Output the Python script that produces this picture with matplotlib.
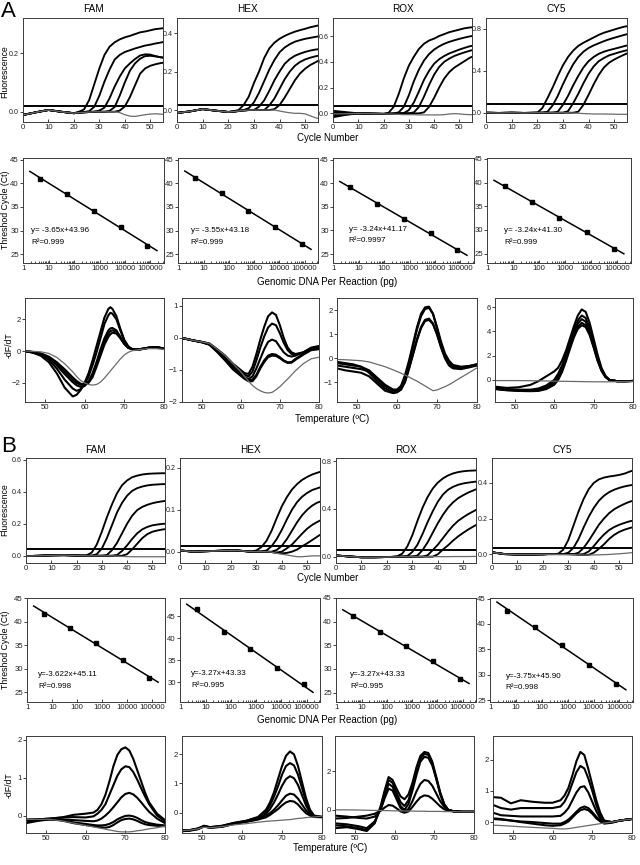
import numpy as np
import matplotlib
matplotlib.use("Agg")
import matplotlib.pyplot as plt
from matplotlib.ticker import FixedLocator, FixedFormatter, LogLocator, NullFormatter

plt.rcParams['font.family'] = ['Liberation Sans', 'DejaVu Sans']

W, H = 640, 865
DYES = ["FAM", "HEX", "ROX", "CY5"]

# ---------------- amplification curves (fluorescence vs cycle) ----------------
AMP_CYCLES = [0, 5, 10, 15, 20, 22, 24, 26, 28, 30, 32, 34, 36, 38, 40, 42, 44, 46, 48, 50, 52, 54, 55]

AMP_A_FAM = [
    [-0.011,-0.002,0.006,0.0,-0.005, 0.0,0.008,0.04,0.094,0.148, 0.194,0.222,0.237,0.247,0.254, 0.259,0.265,0.271,0.274,0.278, 0.282,0.284,0.285],
    [-0.011,-0.002,0.006,0.0,-0.005, -0.003,-0.001,0.002,0.017,0.055, 0.103,0.144,0.178,0.194,0.204, 0.21,0.216,0.221,0.226,0.229, 0.233,0.236,0.238],
    [-0.011,-0.002,0.006,0.0,-0.005, -0.003,-0.002,-0.001,0.0,0.004, 0.014,0.046,0.086,0.12,0.148, 0.165,0.18,0.192,0.196,0.195, 0.19,0.186,0.185],
    [-0.011,-0.002,0.006,0.0,-0.005, -0.003,-0.002,-0.001,0.0,0.0, 0.0,0.003,0.016,0.055,0.1, 0.14,0.165,0.181,0.19,0.191, 0.189,0.186,0.185],
    [-0.011,-0.002,0.006,0.0,-0.005, -0.003,-0.002,-0.001,0.0,0.0, 0.0,0.0,0.0,0.004,0.018, 0.05,0.09,0.13,0.148,0.157, 0.162,0.166,0.167],
]
NEG_A_FAM = [-0.011,-0.002,0.006,0.0,-0.005, -0.003,-0.002,-0.001,0.0,0.0, 0.0,0.0,0.0,-0.003,-0.01, -0.015,-0.016,-0.013,-0.01,-0.008, -0.007,-0.008,-0.009]

AMP_A_HEX = [
    [-0.015,-0.007,0.005,-0.003,-0.01, -0.006,0.0,0.026,0.07,0.14, 0.2,0.27,0.32,0.35,0.37, 0.385,0.397,0.407,0.415,0.422, 0.43,0.436,0.439],
    [-0.015,-0.007,0.005,-0.003,-0.01, -0.008,-0.005,0.0,0.01,0.04, 0.09,0.15,0.21,0.26,0.3, 0.325,0.342,0.355,0.363,0.37, 0.375,0.38,0.382],
    [-0.015,-0.007,0.005,-0.003,-0.01, -0.008,-0.005,-0.002,0.0,0.0, 0.018,0.05,0.1,0.155,0.2, 0.24,0.265,0.282,0.293,0.302, 0.309,0.314,0.316],
    [-0.015,-0.007,0.005,-0.003,-0.01, -0.008,-0.005,-0.002,0.0,0.0, 0.0,0.0,0.024,0.06,0.11, 0.16,0.2,0.23,0.25,0.263, 0.272,0.279,0.282],
    [-0.015,-0.007,0.005,-0.003,-0.01, -0.008,-0.005,-0.002,0.0,0.0, 0.0,0.0,0.0,0.005,0.026, 0.065,0.11,0.155,0.19,0.215, 0.234,0.248,0.255],
]
NEG_A_HEX = [-0.015,-0.007,0.005,-0.003,-0.01, -0.008,-0.005,-0.002,0.0,0.0, 0.0,0.0,0.0,0.0,-0.005, -0.01,-0.014,-0.017,-0.017,-0.02, -0.03,-0.04,-0.043]

AMP_A_ROX = [
    [0.02,0.01,0.0,-0.002,-0.004, 0.005,0.05,0.15,0.27,0.37, 0.44,0.5,0.54,0.565,0.58, 0.6,0.615,0.63,0.64,0.65, 0.66,0.666,0.668],
    [0.005,0.003,0.0,-0.002,-0.004, -0.003,-0.001,0.008,0.05,0.14, 0.25,0.34,0.41,0.46,0.495, 0.52,0.54,0.555,0.567,0.578, 0.588,0.597,0.6],
    [-0.01,-0.004,0.0,-0.002,-0.004, -0.003,-0.002,0.0,0.002,0.025, 0.085,0.17,0.26,0.33,0.385, 0.42,0.445,0.465,0.48,0.495, 0.508,0.52,0.524],
    [-0.02,-0.008,0.0,-0.002,-0.004, -0.003,-0.002,-0.001,0.0,0.0, 0.008,0.05,0.13,0.22,0.3, 0.36,0.4,0.425,0.445,0.46, 0.473,0.485,0.49],
    [-0.03,-0.012,0.0,-0.002,-0.004, -0.003,-0.002,-0.001,0.0,0.0, 0.0,0.0,0.008,0.05,0.12, 0.2,0.27,0.32,0.355,0.38, 0.405,0.43,0.439],
]
NEG_A_ROX = [-0.005,-0.003,0.0,-0.002,-0.004, -0.005,-0.006,-0.008,-0.01,-0.01, -0.01,-0.012,-0.012,-0.012,-0.012, -0.012,-0.01,-0.005,-0.002,-0.004, -0.008,-0.01,-0.01]

AMP_A_CY5 = [
    [0.0,-0.002,0.0,-0.002,0.0, 0.045,0.14,0.24,0.35,0.45, 0.53,0.59,0.635,0.665,0.69, 0.715,0.74,0.76,0.775,0.79, 0.805,0.818,0.822],
    [0.0,-0.002,0.0,-0.002,0.0, 0.0,0.01,0.07,0.16,0.27, 0.37,0.46,0.53,0.58,0.615, 0.64,0.66,0.68,0.697,0.712, 0.726,0.74,0.746],
    [0.0,-0.002,0.0,-0.002,0.0, 0.0,0.0,0.0,0.01,0.075, 0.16,0.26,0.35,0.43,0.49, 0.53,0.56,0.58,0.595,0.607, 0.62,0.633,0.639],
    [0.0,-0.002,0.0,-0.002,0.0, 0.0,0.0,0.0,0.0,0.0, 0.015,0.09,0.18,0.28,0.37, 0.44,0.49,0.52,0.545,0.56, 0.575,0.588,0.594],
    [0.0,-0.002,0.0,-0.002,0.0, 0.0,0.0,0.0,0.0,0.0, 0.0,0.0,0.01,0.075,0.17, 0.27,0.36,0.43,0.475,0.505, 0.53,0.553,0.563],
]
NEG_A_CY5 = [0.0,-0.002,0.0,-0.002,0.0, 0.0,0.0,0.0,0.0,0.0, 0.0,-0.002,-0.005,-0.008,-0.01, -0.012,-0.012,-0.012,-0.013,-0.014, -0.015,-0.015,-0.015]

AMP_B_FAM = [
    [-0.002,0.0,0.003,0.004,0.002, 0.0,0.003,0.02,0.07,0.15, 0.24,0.32,0.39,0.44,0.47, 0.49,0.5,0.507,0.511,0.513, 0.514,0.515,0.515],
    [-0.002,0.0,0.003,0.004,0.002, 0.001,0.0,0.0,0.01,0.045, 0.11,0.19,0.27,0.33,0.375, 0.405,0.422,0.432,0.439,0.443, 0.445,0.447,0.447],
    [-0.002,0.0,0.003,0.004,0.002, 0.001,0.0,0.0,0.0,0.0, 0.005,0.035,0.08,0.14,0.2, 0.25,0.285,0.305,0.318,0.328, 0.335,0.34,0.342],
    [-0.002,0.0,0.003,0.004,0.002, 0.001,0.0,0.0,0.0,0.0, 0.0,0.0,0.005,0.03,0.065, 0.105,0.14,0.165,0.18,0.19, 0.195,0.199,0.2],
    [-0.002,0.0,0.003,0.004,0.002, 0.001,0.0,0.0,0.0,0.0, 0.0,0.0,0.0,0.0,0.01, 0.04,0.075,0.11,0.135,0.15, 0.158,0.164,0.166],
]
NEG_B_FAM = [-0.002,0.0,0.003,0.004,0.002, 0.001,0.0,0.0,0.0,0.0, 0.0,0.0,-0.002,-0.004,-0.005, -0.006,-0.006,-0.006,-0.006,-0.006, -0.006,-0.006,-0.006]

AMP_B_HEX = [
    [0.003,0.0,0.001,0.002,0.003, 0.003,0.002,0.001,0.0,0.003, 0.011,0.026,0.05,0.08,0.108, 0.13,0.148,0.161,0.171,0.178, 0.184,0.188,0.19],
    [0.003,0.0,0.001,0.002,0.003, 0.003,0.002,0.001,0.0,0.0, 0.0,0.003,0.013,0.03,0.052, 0.077,0.1,0.118,0.131,0.14, 0.147,0.151,0.153],
    [0.003,0.0,0.001,0.002,0.003, 0.003,0.002,0.001,0.0,0.0, 0.0,0.0,0.0,0.004,0.014, 0.03,0.05,0.07,0.087,0.1, 0.11,0.117,0.119],
    [0.003,0.0,0.001,0.002,0.003, 0.003,0.002,0.001,0.0,0.0, 0.0,0.0,-0.001,-0.002,0.0, 0.008,0.017,0.03,0.043,0.055, 0.064,0.071,0.074],
    [0.003,0.0,0.001,0.002,0.003, 0.003,0.002,0.001,0.0,0.0, 0.0,0.0,-0.001,-0.003,-0.004, -0.003,0.0,0.005,0.013,0.02, 0.028,0.036,0.04],
]
NEG_B_HEX = [0.003,0.0,0.001,0.002,0.003, 0.003,0.002,0.001,0.0,0.0, 0.0,0.0,-0.001,-0.004,-0.006, -0.008,-0.01,-0.012,-0.012,-0.011, -0.01,-0.01,-0.01]

AMP_B_ROX = [
    [0.01,0.002,-0.005,-0.005,-0.003, -0.002,0.003,0.025,0.085,0.18, 0.3,0.41,0.5,0.57,0.62, 0.655,0.68,0.697,0.708,0.715, 0.719,0.721,0.722],
    [0.01,0.002,-0.005,-0.005,-0.003, -0.002,-0.001,0.0,0.005,0.04, 0.1,0.19,0.29,0.38,0.46, 0.52,0.56,0.585,0.602,0.613, 0.62,0.626,0.628],
    [0.01,0.002,-0.005,-0.005,-0.003, -0.002,-0.001,0.0,0.0,0.0, 0.01,0.055,0.12,0.2,0.28, 0.35,0.41,0.455,0.49,0.515, 0.537,0.555,0.564],
    [0.01,0.002,-0.005,-0.005,-0.003, -0.002,-0.001,0.0,0.0,0.0, 0.0,0.0,0.012,0.055,0.1, 0.155,0.21,0.26,0.3,0.33, 0.357,0.38,0.391],
    [0.01,0.002,-0.005,-0.005,-0.003, -0.002,-0.001,0.0,0.0,0.0, 0.0,0.0,0.0,0.0,0.02, 0.06,0.095,0.135,0.17,0.2, 0.228,0.253,0.265],
]
NEG_B_ROX = [0.01,0.002,-0.005,-0.005,-0.003, -0.002,-0.001,0.0,0.0,0.0, 0.0,0.0,0.0,0.0,0.0, 0.0,0.0,0.001,0.001,0.001, 0.001,0.002,0.002]

AMP_B_CY5 = [
    [0.01,0.0,-0.002,-0.002,-0.001, 0.0,0.0,0.002,0.025,0.08, 0.16,0.24,0.31,0.365,0.4, 0.42,0.43,0.436,0.44,0.445, 0.452,0.463,0.468],
    [0.01,0.0,-0.002,-0.002,-0.001, 0.0,0.0,0.0,0.0,0.008, 0.035,0.085,0.15,0.21,0.26, 0.3,0.328,0.348,0.362,0.372, 0.38,0.386,0.388],
    [0.01,0.0,-0.002,-0.002,-0.001, 0.0,0.0,0.0,0.0,0.0, -0.001,0.008,0.035,0.075,0.12, 0.165,0.2,0.23,0.252,0.268, 0.282,0.294,0.298],
    [0.01,0.0,-0.002,-0.002,-0.001, 0.0,0.0,0.0,0.0,0.0, -0.001,-0.003,0.0,0.015,0.045, 0.08,0.11,0.135,0.152,0.165, 0.175,0.184,0.187],
    [0.01,0.0,-0.002,-0.002,-0.001, 0.0,0.0,0.0,0.0,0.0, -0.001,-0.003,-0.005,-0.004,0.008, 0.03,0.055,0.085,0.108,0.125, 0.137,0.146,0.15],
]
NEG_B_CY5 = [0.01,0.0,-0.002,-0.002,-0.001, -0.001,-0.001,-0.002,-0.002,-0.003, -0.003,-0.004,-0.005,-0.005,-0.005, -0.004,-0.003,-0.002,0.0,0.002, 0.004,0.007,0.008]

THRESH_A = [0.02, 0.026, 0.057, 0.079]
THRESH_B = [0.045, 0.0135, 0.056, 0.037]
AMP_YLIM_A = [(-0.035, 0.32), (-0.062, 0.478), (-0.067, 0.74), (-0.088, 0.9)]
AMP_YLIM_B = [(-0.045, 0.61), (-0.027, 0.223), (-0.053, 0.826), (-0.05, 0.54)]
AMP_YTICKS_A = [[0.0, 0.2], [0.0, 0.2, 0.4], [0.0, 0.2, 0.4, 0.6], [0.0, 0.4, 0.8]]
AMP_YTICKS_B = [[0.0, 0.2, 0.4, 0.6], [0.0, 0.1, 0.2], [0.0, 0.4, 0.8], [0.0, 0.2, 0.4]]

# ---------------- standard curves ----------------
DNA_PG = [4.6, 52, 590, 6800, 76000]
CT_A = [
    [41.0, 37.8, 34.1, 30.7, 26.8],
    [41.2, 37.9, 34.2, 30.8, 27.2],
    [39.2, 35.6, 32.5, 29.4, 25.8],
    [39.3, 35.8, 32.6, 29.6, 26.0],
]
CT_B = [
    [41.7, 38.8, 35.6, 31.9, 28.0],
    [46.5, 41.4, 37.5, 33.2, 29.5],
    [41.1, 37.9, 34.9, 31.6, 27.8],
    [42.6, 39.5, 35.9, 32.0, 28.2],
]
EQ_A = ["y= -3.65x+43.96", "y= -3.55x+43.18", "y= -3.24x+41.17", "y= -3.24x+41.30"]
R2_A = ["R²=0.999", "R²=0.999", "R²=0.9997", "R²=0.999"]
EQ_B = ["y=-3.622x+45.11", "y=-3.27x+43.33", "y=-3.27x+43.33", "y=-3.75x+45.90"]
R2_B = ["R²=0.998", "R²=0.995", "R²=0.995", "R²=0.998"]
STD_YLIM_A = [(23.1, 45.4), (23.1, 45.4), (23.1, 45.35), (23.0, 45.2)]
STD_YLIM_B = [(22.9, 45.1), (25.5, 49.1), (23.0, 45.0), (24.7, 45.1)]
STD_YTICKS_A = [[25, 30, 35, 40, 45]] * 4
STD_YTICKS_B = [[25, 30, 35, 40, 45], [30, 35, 40, 45], [25, 30, 35, 40, 45], [25, 30, 35, 40, 45]]
DNA_TICKS = [1, 10, 100, 1000, 10000, 100000]
DNA_TICKLABELS = ["1", "10", "100", "1000", "10000", "100000"]
EQ_POS_A = [(0.06, 0.31), (0.09, 0.31), (0.11, 0.32), (0.12, 0.31)]
EQ_POS_B = [(0.08, 0.26), (0.08, 0.27), (0.10, 0.26), (0.11, 0.25)]

# ---------------- melt curves (-dF/dT vs temperature) ----------------
T_A_FAM = [45,47,49,51,53,55,57,58,59,60,61,62,63,64,65,66,66.5,67,68,69,70,71,72,74,76,78,80]
MELT_A_FAM = [
    [0,-0.1,-0.3,-0.7,-1.4,-2.3,-2.85,-2.75,-2.45,-2.0,-1.4,-0.6,0.3,1.2,2.1,2.65,2.75,2.65,2.2,1.4,0.7,0.3,0.12,0.1,0.2,0.25,0.15],
    [0,-0.1,-0.25,-0.55,-1.1,-1.8,-2.35,-2.5,-2.4,-2.1,-1.6,-0.9,-0.1,0.8,1.7,2.25,2.4,2.35,2.0,1.3,0.65,0.25,0.12,0.1,0.2,0.25,0.15],
    [0,-0.08,-0.2,-0.45,-0.9,-1.45,-1.95,-2.15,-2.25,-2.2,-1.9,-1.4,-0.7,0.1,0.8,1.3,1.42,1.45,1.3,0.9,0.45,0.2,0.12,0.12,0.2,0.25,0.15],
    [0,-0.07,-0.18,-0.4,-0.8,-1.3,-1.8,-2.0,-2.12,-2.15,-1.95,-1.5,-0.85,-0.1,0.6,1.1,1.25,1.3,1.2,0.85,0.45,0.2,0.12,0.12,0.2,0.25,0.15],
    [0,-0.06,-0.15,-0.35,-0.7,-1.15,-1.65,-1.88,-2.05,-2.1,-2.0,-1.65,-1.0,-0.3,0.4,0.9,1.05,1.15,1.1,0.8,0.45,0.2,0.12,0.12,0.2,0.25,0.15],
]
MNEG_A_FAM = [0,-0.02,-0.05,-0.15,-0.4,-0.8,-1.3,-1.6,-1.85,-2.0,-2.1,-2.14,-2.1,-1.95,-1.7,-1.4,-1.25,-1.1,-0.8,-0.5,-0.25,-0.08,0.02,0.1,0.15,0.15,0.1]

T_A_HEX = [45,48,50,52,54,56,58,60,61,62,63,64,65,66,67,68,69,70,71,72,73,74,76,78,80]
MELT_A_HEX = [
    [0,-0.08,-0.12,-0.17,-0.35,-0.55,-0.8,-1.0,-1.1,-1.12,-0.9,-0.5,-0.05,0.35,0.68,0.8,0.72,0.4,0.0,-0.3,-0.45,-0.5,-0.45,-0.3,-0.25],
    [0,-0.08,-0.12,-0.18,-0.37,-0.6,-0.85,-1.05,-1.15,-1.2,-1.05,-0.7,-0.3,0.05,0.33,0.45,0.4,0.15,-0.15,-0.38,-0.5,-0.52,-0.45,-0.32,-0.28],
    [0,-0.08,-0.13,-0.2,-0.4,-0.65,-0.92,-1.12,-1.22,-1.28,-1.2,-0.95,-0.65,-0.35,-0.12,-0.05,-0.1,-0.28,-0.45,-0.55,-0.58,-0.55,-0.45,-0.33,-0.3],
    [0,-0.08,-0.13,-0.2,-0.42,-0.68,-0.95,-1.15,-1.25,-1.32,-1.3,-1.15,-0.9,-0.7,-0.55,-0.5,-0.52,-0.6,-0.7,-0.76,-0.75,-0.65,-0.5,-0.35,-0.32],
    [0,-0.08,-0.13,-0.21,-0.44,-0.7,-0.98,-1.18,-1.28,-1.35,-1.35,-1.2,-0.95,-0.75,-0.6,-0.55,-0.56,-0.63,-0.72,-0.78,-0.77,-0.68,-0.52,-0.38,-0.35],
]
MNEG_A_HEX = [0,-0.08,-0.12,-0.17,-0.35,-0.55,-0.8,-1.05,-1.2,-1.35,-1.48,-1.58,-1.65,-1.7,-1.72,-1.7,-1.62,-1.52,-1.4,-1.28,-1.15,-1.02,-0.8,-0.65,-0.6]

T_A_ROX = [45,47,49,51,53,55,57,59,60,61,62,63,64,65,66,67,68,69,70,71,72,73,74,76,78,80]
MELT_A_ROX = [
    [-0.2,-0.25,-0.3,-0.35,-0.5,-0.8,-1.1,-1.3,-1.3,-1.15,-0.7,-0.1,0.6,1.3,1.85,2.12,2.15,1.85,1.25,0.6,0.1,-0.2,-0.32,-0.38,-0.33,-0.25],
    [-0.3,-0.35,-0.4,-0.45,-0.55,-0.85,-1.15,-1.35,-1.35,-1.2,-0.8,-0.2,0.5,1.2,1.75,2.05,2.1,1.85,1.3,0.7,0.2,-0.1,-0.28,-0.35,-0.32,-0.25],
    [-0.15,-0.2,-0.25,-0.35,-0.6,-0.95,-1.25,-1.42,-1.4,-1.3,-0.95,-0.4,0.2,0.8,1.3,1.6,1.65,1.45,1.0,0.45,0.0,-0.3,-0.42,-0.45,-0.38,-0.3],
    [-0.42,-0.5,-0.55,-0.6,-0.75,-1.05,-1.35,-1.45,-1.42,-1.3,-1.0,-0.45,0.15,0.75,1.25,1.55,1.6,1.42,1.0,0.5,0.05,-0.25,-0.4,-0.42,-0.35,-0.28],
]
MNEG_A_ROX = [-0.05,-0.06,-0.08,-0.1,-0.15,-0.25,-0.35,-0.48,-0.55,-0.62,-0.7,-0.78,-0.87,-0.95,-1.05,-1.15,-1.25,-1.35,-1.32,-1.25,-1.18,-1.1,-1.0,-0.8,-0.6,-0.4]

T_A_CY5 = [45,48,51,54,56,58,60,61,62,63,64,65,66,67,68,69,70,71,72,73,74,76,78,80]
MELT_A_CY5 = [
    [-0.55,-0.65,-0.6,-0.4,-0.1,0.3,0.7,1.0,1.6,2.4,3.4,4.4,5.3,5.8,5.6,4.7,3.4,2.1,1.0,0.35,0.0,-0.1,-0.1,-0.08],
    [-0.65,-0.75,-0.8,-0.8,-0.7,-0.45,0.0,0.5,1.2,2.1,3.1,4.1,4.9,5.3,5.1,4.3,3.1,1.9,0.9,0.3,0.0,-0.1,-0.1,-0.08],
    [-0.7,-0.8,-0.85,-0.85,-0.78,-0.55,-0.1,0.35,1.0,1.9,2.9,3.9,4.65,5.0,4.8,4.0,2.9,1.75,0.85,0.3,0.0,-0.1,-0.1,-0.08],
    [-0.72,-0.82,-0.88,-0.9,-0.85,-0.65,-0.25,0.2,0.85,1.75,2.75,3.7,4.4,4.7,4.5,3.8,2.75,1.65,0.8,0.25,0.0,-0.1,-0.1,-0.08],
    [-0.75,-0.85,-0.9,-0.92,-0.9,-0.75,-0.4,0.0,0.65,1.55,2.55,3.5,4.2,4.5,4.35,3.7,2.7,1.6,0.75,0.25,0.0,-0.1,-0.1,-0.08],
]
MNEG_A_CY5 = [-0.05,-0.05,-0.05,-0.06,-0.07,-0.08,-0.1,-0.1,-0.11,-0.11,-0.12,-0.12,-0.13,-0.13,-0.14,-0.14,-0.15,-0.15,-0.15,-0.15,-0.15,-0.14,-0.13,-0.12]

T_B_FAM = [45,48,51,54,57,60,62,63,64,65,66,67,68,69,70,71,72,73,74,75,76,78,80]
MELT_B_FAM = [
    [-0.1,-0.1,-0.08,-0.05,0.02,0.05,0.08,0.15,0.3,0.55,0.9,1.3,1.6,1.75,1.8,1.72,1.5,1.2,0.9,0.6,0.35,0.05,-0.12],
    [-0.15,-0.1,-0.08,-0.05,-0.04,-0.05,-0.02,0.05,0.15,0.3,0.55,0.8,1.05,1.22,1.3,1.28,1.15,0.95,0.72,0.5,0.3,0.0,-0.15],
    [-0.12,-0.1,-0.1,-0.1,-0.12,-0.14,-0.15,-0.13,-0.08,0.0,0.1,0.22,0.35,0.48,0.57,0.6,0.56,0.47,0.35,0.22,0.1,-0.08,-0.2],
    [-0.18,-0.12,-0.1,-0.12,-0.18,-0.22,-0.25,-0.26,-0.26,-0.25,-0.22,-0.17,-0.1,-0.05,-0.01,0.0,-0.02,-0.06,-0.12,-0.17,-0.2,-0.24,-0.26],
    [-0.2,-0.14,-0.1,-0.13,-0.2,-0.25,-0.28,-0.3,-0.31,-0.32,-0.3,-0.25,-0.18,-0.12,-0.09,-0.08,-0.1,-0.14,-0.19,-0.23,-0.25,-0.27,-0.28],
]
MNEG_B_FAM = [-0.1,-0.1,-0.1,-0.14,-0.2,-0.26,-0.3,-0.32,-0.34,-0.36,-0.38,-0.4,-0.42,-0.43,-0.43,-0.43,-0.42,-0.4,-0.39,-0.37,-0.35,-0.32,-0.28]

T_B_HEX = [45,47,49,50.5,52,55,58,61,64,66,67,68,69,70,71,72,73,74,75,76,77,78,80]
MELT_B_HEX = [
    [-0.62,-0.6,-0.55,-0.45,-0.5,-0.45,-0.35,-0.28,-0.15,0.1,0.35,0.7,1.15,1.6,1.95,2.1,2.0,1.6,1.05,0.5,0.1,-0.1,-0.15],
    [-0.63,-0.61,-0.56,-0.46,-0.5,-0.46,-0.36,-0.29,-0.17,0.03,0.25,0.55,0.9,1.3,1.6,1.7,1.62,1.3,0.85,0.4,0.05,-0.12,-0.15],
    [-0.6,-0.6,-0.54,-0.47,-0.51,-0.47,-0.37,-0.3,-0.2,-0.05,0.12,0.35,0.62,0.92,1.15,1.25,1.18,0.95,0.6,0.25,0.0,-0.13,-0.15],
    [-0.64,-0.62,-0.57,-0.48,-0.52,-0.48,-0.38,-0.31,-0.22,-0.12,-0.02,0.1,0.25,0.42,0.58,0.65,0.62,0.48,0.28,0.08,-0.06,-0.14,-0.15],
    [-0.61,-0.6,-0.56,-0.47,-0.52,-0.49,-0.39,-0.32,-0.24,-0.16,-0.08,0.02,0.12,0.25,0.35,0.4,0.38,0.28,0.12,-0.02,-0.1,-0.15,-0.16],
]
MNEG_B_HEX = [-0.62,-0.6,-0.56,-0.5,-0.52,-0.48,-0.42,-0.38,-0.33,-0.3,-0.29,-0.28,-0.27,-0.26,-0.25,-0.24,-0.22,-0.2,-0.19,-0.17,-0.16,-0.15,-0.12]

T_B_ROX = [45,48,51,53,55,56.5,57.5,58.5,59.5,60.5,61.5,62.5,63.5,64.5,65.5,66.5,67.5,68.5,69.5,70.5,71.5,72.5,73.5,75,77,80]
MELT_B_ROX = [
    [-0.95,-0.9,-1.0,-1.1,-0.7,0.2,1.0,1.7,1.55,1.1,0.7,0.55,0.8,1.4,2.2,2.8,3.0,2.95,2.5,1.7,0.9,0.3,0.0,-0.08,-0.1,-0.1],
    [-0.8,-0.85,-0.95,-1.05,-0.65,0.1,0.9,1.55,1.4,0.9,0.4,0.2,0.5,1.2,2.0,2.65,2.9,2.85,2.4,1.65,0.85,0.28,0.0,-0.08,-0.1,-0.1],
    [-0.7,-0.75,-0.85,-0.95,-0.6,0.05,0.75,1.35,1.2,0.7,0.2,0.0,0.3,1.0,1.8,2.5,2.75,2.7,2.3,1.6,0.8,0.25,0.0,-0.08,-0.1,-0.1],
    [-0.3,-0.35,-0.42,-0.45,-0.35,0.0,0.6,1.1,1.0,0.55,0.1,-0.1,0.05,0.45,0.95,1.35,1.55,1.5,1.25,0.85,0.45,0.15,-0.02,-0.08,-0.1,-0.1],
    [-0.45,-0.42,-0.35,-0.3,-0.2,-0.05,0.12,0.25,0.22,0.08,-0.08,-0.15,-0.08,0.15,0.42,0.65,0.75,0.72,0.58,0.38,0.18,0.03,-0.05,-0.08,-0.1,-0.1],
]
MNEG_B_ROX = [0.0,0.0,-0.01,-0.02,-0.03,-0.03,-0.04,-0.04,-0.05,-0.05,-0.05,-0.06,-0.06,-0.06,-0.07,-0.07,-0.07,-0.08,-0.08,-0.08,-0.08,-0.09,-0.09,-0.09,-0.1,-0.1]

T_B_CY5 = [45,47,49.5,52,55,58,60,62,63,64,65,66,67,68,69,70,71,72,73,75,77,80]
MELT_B_CY5 = [
    [0.8,0.78,0.6,0.7,0.65,0.62,0.62,0.7,0.85,1.1,1.5,1.95,2.25,2.15,1.7,1.2,0.7,0.3,0.05,0.0,0.05,0.1],
    [0.55,0.45,0.4,0.45,0.45,0.45,0.45,0.5,0.65,0.9,1.25,1.6,1.8,1.72,1.4,1.0,0.55,0.2,0.03,0.0,0.05,0.1],
    [0.3,0.22,0.2,0.18,0.18,0.18,0.18,0.2,0.3,0.45,0.7,0.95,1.12,1.15,0.95,0.65,0.35,0.12,0.0,0.0,0.05,0.1],
    [0.1,0.08,0.05,0.02,0.0,-0.03,-0.05,-0.05,0.0,0.08,0.2,0.33,0.45,0.5,0.45,0.32,0.17,0.05,-0.02,0.0,0.05,0.1],
    [0.12,0.1,0.05,0.0,-0.05,-0.1,-0.12,-0.1,-0.05,0.02,0.15,0.28,0.38,0.42,0.38,0.27,0.12,0.02,-0.05,-0.02,0.05,0.1],
]
MNEG_B_CY5 = [-0.1,-0.11,-0.13,-0.15,-0.17,-0.19,-0.2,-0.22,-0.22,-0.21,-0.19,-0.17,-0.15,-0.13,-0.11,-0.09,-0.07,-0.05,-0.03,0.0,0.05,0.1]

MELT_YLIM_A = [(-3.2, 3.33), (-2.0, 1.25), (-1.82, 2.51), (-1.81, 6.74)]
MELT_YLIM_B = [(-0.46, 2.1), (-0.7, 2.63), (-1.2, 3.83), (-0.35, 2.76)]
MELT_YTICKS_A = [[-2, 0, 2], [-2, -1, 0, 1], [-1, 0, 1, 2], [0, 2, 4, 6]]
MELT_YTICKS_B = [[0, 1, 2], [0, 1, 2], [0, 2], [0, 1, 2]]

# ---------------- layout (pixel boxes) ----------------
ROW_A_AMP = (18, 122, [23, 177, 333, 486], [163, 318, 472, 627])
ROW_A_STD = (158, 263, [23, 178, 333, 487], [164, 318, 474, 631])
ROW_A_MELT = (298, 402, [25, 182, 337, 495], [164, 319, 477, 633])
ROW_B_AMP = (458, 563, [26, 180, 336, 492], [165, 320, 476, 632])
ROW_B_STD = (598, 702, [27, 180, 336, 490], [165, 320, 476, 633])
ROW_B_MELT = (736, 833, [26, 182, 335, 493], [165, 322, 474, 632])

BLACK_LW = 1.35
GRAY = '#6a6a6a'

fig = plt.figure(figsize=(6.4, 8.65), dpi=100)


def add_ax(l, t, r, b):
    return fig.add_axes([l / W, 1 - b / H, (r - l) / W, (b - t) / H])


def style(ax):
    for s in ax.spines.values():
        s.set_linewidth(0.7)
        s.set_color('#3a3a3a')
    ax.tick_params(labelsize=5.6, length=2, width=0.6, pad=1.0, colors='#222222')
    ax.tick_params(axis='x', direction='in', pad=1.5)


def fmt_amp(v):
    return "%.1f" % v


def amp_row(row, curves_list, negs, thresh, ylims, yticks, title_y):
    t, b, Ls, Rs = row
    for i in range(4):
        ax = add_ax(Ls[i], t, Rs[i], b)
        style(ax)
        ax.tick_params(axis='y', labelsize=5.1)
        for c in curves_list[i]:
            ax.plot(AMP_CYCLES, c, color='black', lw=BLACK_LW, solid_joinstyle='round')
        ax.plot(AMP_CYCLES, negs[i], color=GRAY, lw=0.9)
        ax.axhline(thresh[i], color='black', lw=1.4)
        ax.set_xlim(0, 55)
        ax.set_ylim(*ylims[i])
        ax.set_xticks([0, 10, 20, 30, 40, 50])
        ax.set_yticks(yticks[i])
        ax.set_yticklabels([fmt_amp(v) for v in yticks[i]])
        fig.text((Ls[i] + Rs[i]) / 2 / W, 1 - title_y / H, DYES[i], ha='center', va='center', fontsize=7.2)


def std_row(row, cts, eqs, r2s, ylims, yticks, eqpos):
    t, b, Ls, Rs = row
    for i in range(4):
        ax = add_ax(Ls[i], t, Rs[i], b)
        style(ax)
        ax.set_xscale('log')
        lx = np.log10(DNA_PG)
        slope, icpt = np.polyfit(lx, cts[i], 1)
        xs = np.array([1.8, 1.8e5])
        ax.plot(xs, slope * np.log10(xs) + icpt, color='black', lw=1.1)
        ax.plot(DNA_PG, cts[i], 's', color='black', ms=2.6)
        ax.set_xlim(0.97, 3.4e5)
        ax.set_ylim(*ylims[i])
        ax.xaxis.set_major_locator(FixedLocator(DNA_TICKS))
        ax.xaxis.set_major_formatter(FixedFormatter(DNA_TICKLABELS))
        ax.xaxis.set_minor_locator(LogLocator(base=10, subs=range(2, 10)))
        ax.xaxis.set_minor_formatter(NullFormatter())
        ax.tick_params(axis='x', which='minor', direction='in', length=1.5, width=0.5)
        ax.set_yticks(yticks[i])
        ex, ey = eqpos[i]
        ax.text(ex, ey, eqs[i], transform=ax.transAxes, fontsize=5.8, va='center')
        ax.text(ex, ey - 0.11, r2s[i], transform=ax.transAxes, fontsize=5.8, va='center')


def melt_row(row, temps, curves_list, negs, ylims, yticks):
    t, b, Ls, Rs = row
    for i in range(4):
        ax = add_ax(Ls[i], t, Rs[i], b)
        style(ax)
        for c in curves_list[i]:
            ax.plot(temps[i], c, color='black', lw=1.5, solid_joinstyle='round')
        ax.plot(temps[i], negs[i], color=GRAY, lw=0.9)
        ax.set_xlim(45, 80)
        ax.set_ylim(*ylims[i])
        ax.set_xticks([50, 60, 70, 80])
        ax.set_yticks(yticks[i])


# Panel A
amp_row(ROW_A_AMP, [AMP_A_FAM, AMP_A_HEX, AMP_A_ROX, AMP_A_CY5],
        [NEG_A_FAM, NEG_A_HEX, NEG_A_ROX, NEG_A_CY5], THRESH_A, AMP_YLIM_A, AMP_YTICKS_A, 9)
std_row(ROW_A_STD, CT_A, EQ_A, R2_A, STD_YLIM_A, STD_YTICKS_A, EQ_POS_A)
melt_row(ROW_A_MELT, [T_A_FAM, T_A_HEX, T_A_ROX, T_A_CY5],
         [MELT_A_FAM, MELT_A_HEX, MELT_A_ROX, MELT_A_CY5],
         [MNEG_A_FAM, MNEG_A_HEX, MNEG_A_ROX, MNEG_A_CY5], MELT_YLIM_A, MELT_YTICKS_A)

# Panel B
amp_row(ROW_B_AMP, [AMP_B_FAM, AMP_B_HEX, AMP_B_ROX, AMP_B_CY5],
        [NEG_B_FAM, NEG_B_HEX, NEG_B_ROX, NEG_B_CY5], THRESH_B, AMP_YLIM_B, AMP_YTICKS_B, 450)
std_row(ROW_B_STD, CT_B, EQ_B, R2_B, STD_YLIM_B, STD_YTICKS_B, EQ_POS_B)
melt_row(ROW_B_MELT, [T_B_FAM, T_B_HEX, T_B_ROX, T_B_CY5],
         [MELT_B_FAM, MELT_B_HEX, MELT_B_ROX, MELT_B_CY5],
         [MNEG_B_FAM, MNEG_B_HEX, MNEG_B_ROX, MNEG_B_CY5], MELT_YLIM_B, MELT_YTICKS_B)


def ftext(x, y, s, **kw):
    fig.text(x / W, 1 - y / H, s, **kw)


# panel letters
ftext(1, 1, "A", fontsize=16, va='top', ha='left')
ftext(1, 436, "B", fontsize=16, va='top', ha='left')

# shared axis labels
LBL = 7.0
YLBL = 6.3
for yb in (138, 578):
    ftext(328, yb, "Cycle Number", ha='center', va='center', fontsize=LBL)
for yb in (282, 720):
    ftext(327, yb, "Genomic DNA Per Reaction (pg)", ha='center', va='center', fontsize=LBL)
ftext(332, 419, "Temperature (ºC)", ha='center', va='center', fontsize=LBL)
ftext(330, 848, "Temperature (ºC)", ha='center', va='center', fontsize=LBL)

ftext(4.8, 72, "Fluorescence", rotation=90, ha='center', va='center', fontsize=YLBL)
ftext(4.8, 510, "Fluorescence", rotation=90, ha='center', va='center', fontsize=YLBL)
ftext(6, 210, "Threshod Cycle (Ct)", rotation=90, ha='center', va='center', fontsize=YLBL)
ftext(6, 650, "Threshod Cycle (Ct)", rotation=90, ha='center', va='center', fontsize=YLBL)
ftext(9, 345, "-dF/dT", rotation=90, ha='center', va='center', fontsize=YLBL)
ftext(9, 785, "-dF/dT", rotation=90, ha='center', va='center', fontsize=YLBL)

fig.savefig("out.png", dpi=100)
